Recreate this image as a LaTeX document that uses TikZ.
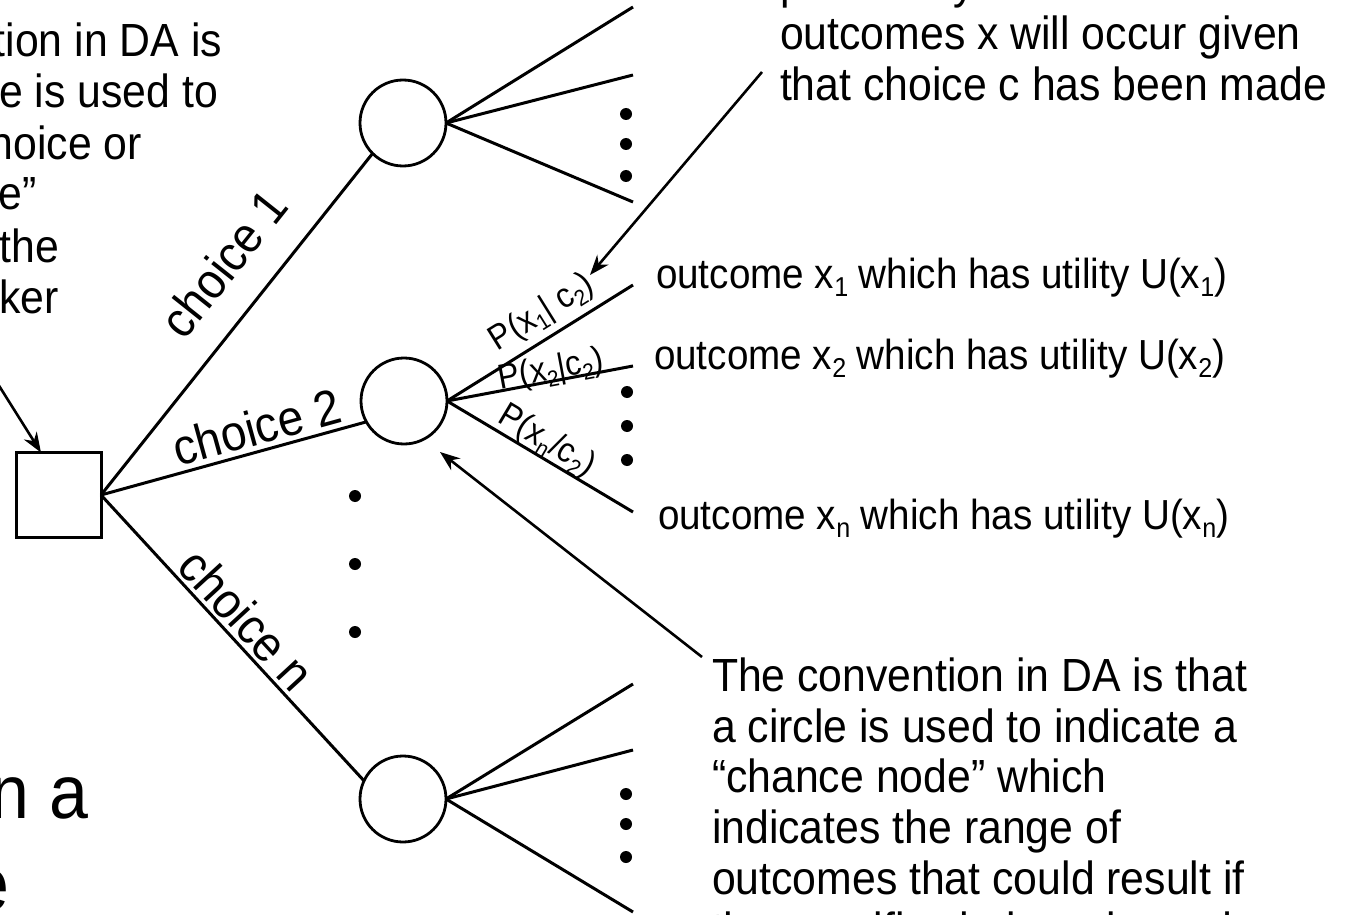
\documentclass[tikz,border=0pt]{standalone}
\usepackage{fontspec}
\setmainfont{Liberation Sans}
\newfontfamily\narrow[FakeStretch=0.92]{Liberation Sans}
\usetikzlibrary{arrows.meta,calc}

% lowered small digit/letter used for x_1, c_2, ...
\newcommand\subs[1]{\raisebox{-0.2em}{\scalebox{0.65}{#1}}}
\newcommand\fsz[1]{\narrow\fontsize{#1}{#1}\selectfont}

\begin{document}
\begin{tikzpicture}[x=1pt,y=-1pt,
  every node/.style={inner sep=0pt,outer sep=0pt},
  edge/.style={line width=3pt},
  chance/.style={circle,draw,line width=2.8pt,minimum size=86pt},
  decision/.style={rectangle,draw,line width=3pt,minimum size=85pt},
  pointer/.style={line width=2.6pt,-{Stealth[length=20pt,width=15pt]}},
  dot/.style={circle,fill,minimum size=12pt},
  body/.style={font=\fsz{46.5}},
  outcome/.style={font=\fsz{42},anchor=base west},
  choicelabel/.style={font=\fsz{50},sloped},
  prob/.style={font=\fsz{34.8},sloped},
  big/.style={font=\fsz{76},anchor=base east}
]
\useasboundingbox (0,0) rectangle (1345,915);
\clip (0,0) rectangle (1345,915);

% decision node and chance nodes
\node[decision] (D) at (58.5,495) {};
\node[chance] (C1) at (403,123) {};
\node[chance] (C2) at (404,401) {};
\node[chance] (C3) at (403,799) {};

% choices
\draw[edge] (D.east) -- node[choicelabel,pos=0.59,above=30pt] (L1) {choice 1} (C1.225);
\draw[edge] (D.east) -- node[choicelabel,pos=0.61,above=6pt] (L2) {choice 2} (C2.209);
\draw[edge] (D.east) -- node[choicelabel,pos=0.49,above=5pt] (Ln) {choice n} (C3.155);

% vertical ellipsis between the choices
\foreach \y [count=\i] in {496,564,632} \node[dot] (m\i) at (355,\y) {};

% outcome branches of the first chance node
\coordinate (e11) at (633,7);
\coordinate (e12) at (633,75);
\coordinate (e13) at (633,202);
\draw[edge] (C1.east) -- (e11);
\draw[edge] (C1.east) -- (e12);
\draw[edge] (C1.east) -- (e13);
\foreach \y [count=\i] in {114,144,176} \node[dot] (a\i) at (626,\y) {};

% outcome branches of the second chance node, with probabilities
\coordinate (e21) at (633,285);
\coordinate (e22) at (633,366);
\coordinate (e23) at (633,512);
\draw[edge] (C2.east) -- node[prob,pos=0.58,above=8pt] (p1) {P(x\subs{1}| c\subs{2})} (e21);
\draw[edge] (C2.east) -- node[prob,pos=0.57,above=-6pt] (p2) {P(x\subs{2}|c\subs{2})} (e22);
\draw[edge] (C2.east) -- node[prob,pos=0.49,above=0pt] (p3) {P(x\subs{n}/c\subs{2})} (e23);
\foreach \y [count=\i] in {392,426,460} \node[dot] (b\i) at (627,\y) {};

% outcome branches of the last chance node
\coordinate (e31) at (633,684);
\coordinate (e32) at (633,750);
\coordinate (e33) at (633,912);
\draw[edge] (C3.east) -- (e31);
\draw[edge] (C3.east) -- (e32);
\draw[edge] (C3.east) -- (e33);
\foreach \y [count=\i] in {794,824,857} \node[dot] (c\i) at (626,\y) {};

% outcomes and utilities
\node[outcome] (o1) at (656,288) {outcome x\subs{1} which has utility U(x\subs{1})};
\node[outcome] (o2) at (654,369) {outcome x\subs{2} which has utility U(x\subs{2})};
\node[outcome] (o3) at (658,529) {outcome x\subs{n} which has utility U(x\subs{n})};

% explanation of the square
\node[body,anchor=base east] (s1) at (222,57)  {The convention in DA is};
\node[body,anchor=base east] (s2) at (218,108) {that a square is used to};
\node[body,anchor=base east] (s3) at (142,160) {indicate a choice or};
\node[body,anchor=base east] (s4) at (37,210)  {“decision node”};
\node[body,anchor=base east] (s5) at (59,262)  {made by the};
\node[body,anchor=base east] (s6) at (59,313)  {decision maker};

% explanation of the probabilities
\node[body,anchor=base west] (t1) at (780,-1)  {probability that one of the};
\node[body,anchor=base west] (t2) at (780,50) {outcomes x will occur given};
\node[body,anchor=base west] (t3) at (780,101)  {that choice c has been made};

% explanation of the circle
\node[body,anchor=base west] (r1) at (712,691) {The convention in DA is that};
\node[body,anchor=base west] (r2) at (712,742) {a circle is used to indicate a};
\node[body,anchor=base west] (r3) at (712,792) {“chance node” which};
\node[body,anchor=base west] (r4) at (712,843) {indicates the range of};
\node[body,anchor=base west] (r5) at (712,894) {outcomes that could result if};
\node[body,anchor=base west] (r6) at (712,945) {the specific choice c is made};

% large heading text at the left
\node[big] (h1) at (88,818) {in a};
\node[big] (h2) at (9,910) {tree};

% pointers from the explanations
\coordinate (n1) at (-14,365);
\draw[pointer] (n1) -- ([xshift=25pt]D.north west);
\coordinate (n2) at (762,72);
\coordinate (n2t) at (590,275);
\draw[pointer] (n2) -- (n2t);
\coordinate (n3) at (702,657);
\coordinate (n3t) at (440,452);
\draw[pointer] (n3) -- (n3t);
\end{tikzpicture}
\end{document}
